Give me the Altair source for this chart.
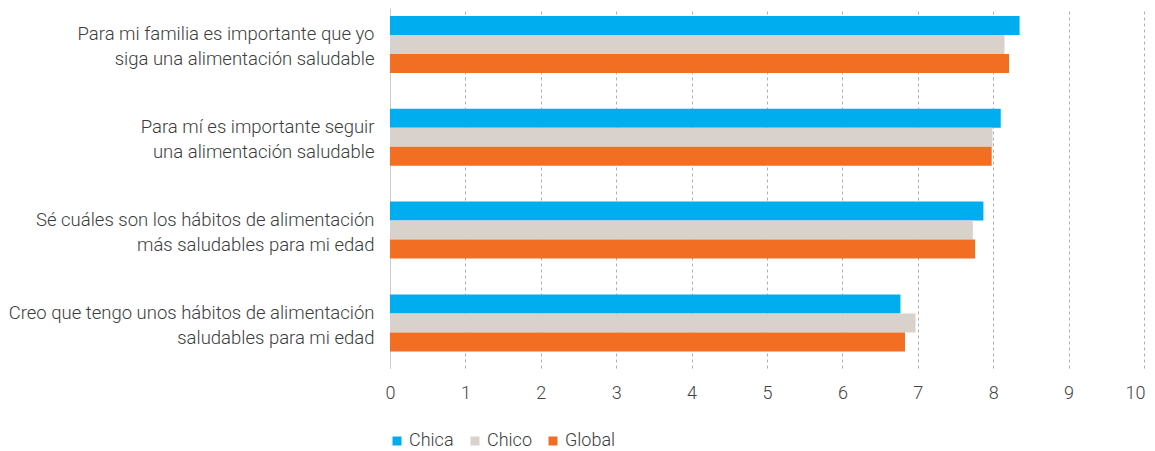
import altair as alt
import pandas as pd

categories = [
    "Para mi familia es importante que yo|siga una alimentación saludable",
    "Para mí es importante seguir|una alimentación saludable",
    "Sé cuáles son los hábitos de alimentación|más saludables para mi edad",
    "Creo que tengo unos hábitos de alimentación|saludables para mi edad",
]
series = ["Chica", "Chico", "Global"]
chica = [8.35, 8.10, 7.87, 6.77]
chico = [8.15, 7.99, 7.73, 6.97]
global_ = [8.21, 7.98, 7.76, 6.83]
colors = ["#00AEEF", "#D9D1CB", "#F26E22"]
x_ticks = list(range(0, 11))

rows = []
for i, c in enumerate(categories):
    for s, vals in zip(series, [chica, chico, global_]):
        rows.append({"cat": c, "serie": s, "valor": vals[i]})
df = pd.DataFrame(rows)

FONT = "Roboto"

chart = (
    alt.Chart(df)
    .mark_bar()
    .encode(
        y=alt.Y(
            "cat:N",
            sort=categories,
            title=None,
            scale=alt.Scale(paddingInner=0.386, paddingOuter=0.1325, align=0.325),
            axis=alt.Axis(
                labelExpr="split(datum.label, '|')",
                labelFontSize=18.5,
                labelFont=FONT,
                labelFontWeight=300,
                labelColor="#3c3c3c",
                labelLineHeight=25,
                labelOffset=-10,
                labelPadding=16,
                labelLimit=420,
                ticks=False,
                domain=True,
                domainColor="#cccccc",
                domainWidth=1,
                grid=False,
            ),
        ),
        yOffset=alt.YOffset(
            "serie:N",
            sort=series,
            scale=alt.Scale(paddingInner=0, paddingOuter=0),
        ),
        x=alt.X(
            "valor:Q",
            title=None,
            scale=alt.Scale(domain=[0, 10], nice=False),
            axis=alt.Axis(
                values=x_ticks,
                labelFontSize=18,
                labelFont=FONT,
                labelFontWeight=300,
                labelColor="#444444",
                labelPadding=16,
                labelFlush=False,
                labelOffset={"condition": {"test": "datum.value == 10", "value": -9}, "value": 0},
                ticks=False,
                domain=False,
                grid=True,
                gridColor="#b0b0b0",
                gridDash=[3, 3],
                gridWidth=1,
            ),
        ),
        color=alt.Color(
            "serie:N",
            sort=series,
            scale=alt.Scale(domain=series, range=colors),
            legend=alt.Legend(
                title=None,
                orient="none",
                legendX=-2,
                legendY=424,
                direction="horizontal",
                symbolType="square",
                symbolSize=81,
                symbolStrokeWidth=0,
                labelFontSize=18,
                labelFont=FONT,
                labelFontWeight=300,
                labelColor="#3c3c3c",
                columnPadding=12,
                labelOffset=3,
            ),
        ),
    )
    .properties(
        width=754,
        height=360,
        autosize=alt.AutoSizeParams(type="none"),
        padding={"left": 382, "top": 0, "right": 3, "bottom": 100},
    )
    .configure_view(stroke=None)
)

chart.save("out.html", embed_options={"renderer": "svg", "actions": False})
